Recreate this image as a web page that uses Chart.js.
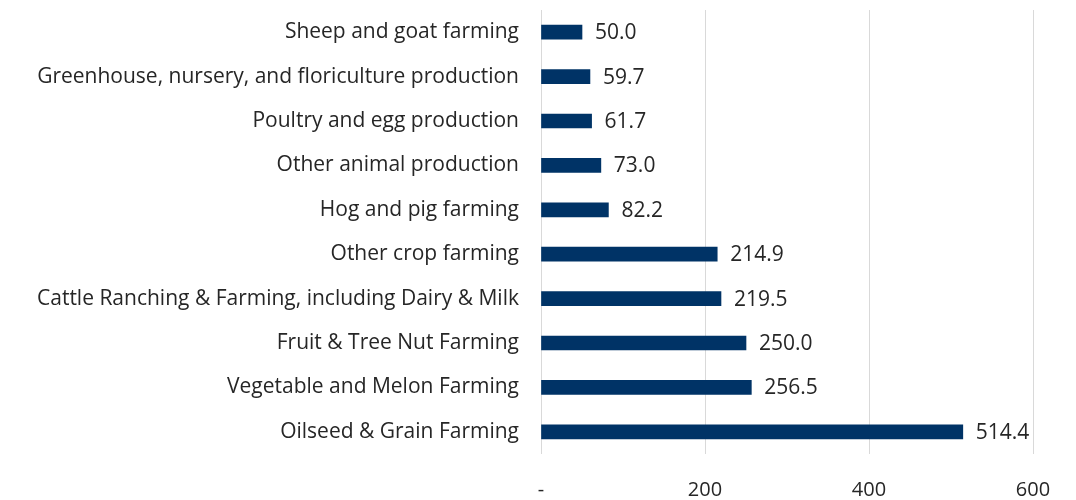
<!DOCTYPE html>
<html>
<head>
<meta charset="utf-8">
<script src="https://cdn.jsdelivr.net/npm/chart.js"></script>
<style>
  html, body { margin: 0; padding: 0; background: #fff; }
  #wrap { width: 1076px; height: 500px; }
</style>
</head>
<body>
<div id="wrap"><canvas id="chart" width="1076" height="500"></canvas></div>
<script>
// data
const categories = [
  "Sheep and goat farming",
  "Greenhouse, nursery, and floriculture production",
  "Poultry and egg production",
  "Other animal production",
  "Hog and pig farming",
  "Other crop farming",
  "Cattle Ranching & Farming, including Dairy & Milk",
  "Fruit & Tree Nut Farming",
  "Vegetable and Melon Farming",
  "Oilseed & Grain Farming"
];
const values = [50.0, 59.7, 61.7, 73.0, 82.2, 214.9, 219.5, 250.0, 256.5, 514.4];
const xTicks = [0, 200, 400, 600];

const FONT = "'Open Sans', 'Noto Sans', sans-serif";
const TEXT = "#262626";

// value labels to the right of each bar
const valueLabels = {
  id: "valueLabels",
  afterDatasetsDraw(chart) {
    const ctx = chart.ctx;
    const meta = chart.getDatasetMeta(0);
    ctx.save();
    ctx.font = "21px " + FONT;
    ctx.fillStyle = TEXT;
    ctx.textAlign = "left";
    ctx.textBaseline = "middle";
    meta.data.forEach((bar, i) => {
      ctx.fillText(values[i].toFixed(1), bar.x + 13, bar.y + 1);
    });
    ctx.restore();
  }
};

new Chart(document.getElementById("chart"), {
  type: "bar",
  data: {
    labels: categories,
    datasets: [{
      data: values,
      backgroundColor: "#003366",
      barThickness: 14
    }]
  },
  options: {
    indexAxis: "y",
    responsive: false,
    animation: false,
    layout: { padding: { top: 10, right: 43, bottom: 0, left: 0 } },
    plugins: { legend: { display: false }, tooltip: { enabled: false } },
    scales: {
      x: {
        min: 0,
        max: 600,
        afterBuildTicks(scale) { scale.ticks = xTicks.map(v => ({ value: v })); },
        afterFit(scale) { scale.height = 46; },
        grid: { color: "#d9d9d9", lineWidth: 1, drawTicks: false },
        border: { display: false },
        ticks: {
          padding: 24,
          color: TEXT,
          font: { family: FONT, size: 20 },
          callback: v => v === 0 ? "-" : v
        }
      },
      y: {
        afterFit(scale) {
          scale.width = 541;
          scale.paddingTop = 0;
          scale.paddingBottom = 0;
        },
        grid: { display: false, drawTicks: false },
        border: { display: false },
        ticks: {
          padding: 22,
          color: TEXT,
          font: { family: FONT, size: 21 }
        }
      }
    }
  },
  plugins: [valueLabels]
});
</script>
</body>
</html>
